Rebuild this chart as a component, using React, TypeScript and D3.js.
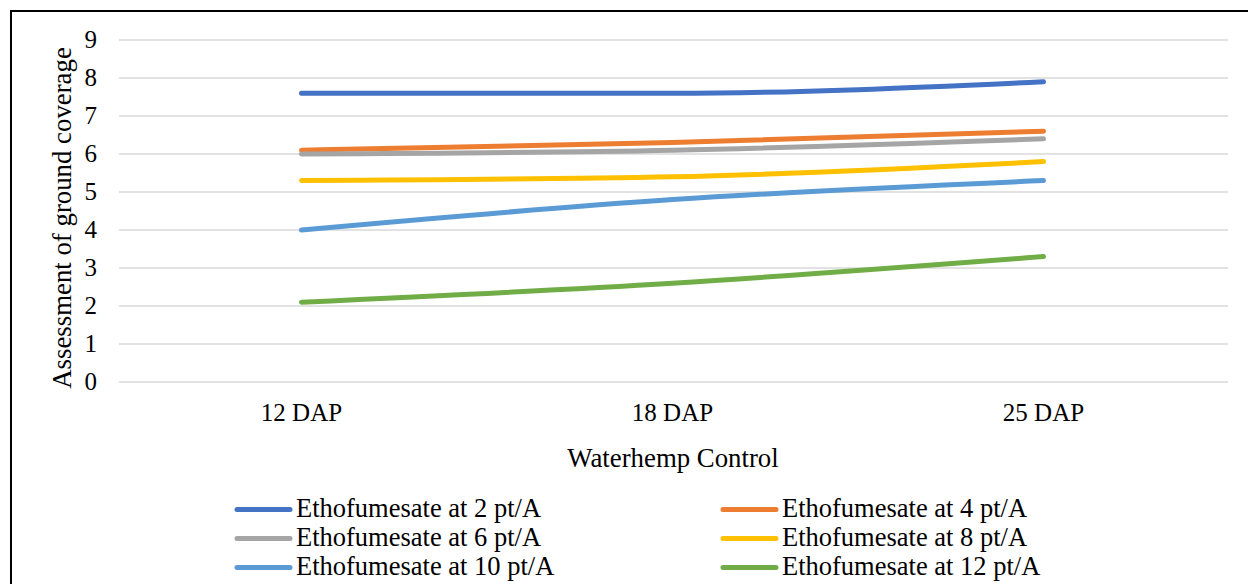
import React from "react";
import * as d3 from "d3";

const categories = ["12 DAP", "18 DAP", "25 DAP"];
const seriesNames = [
  "Ethofumesate at 2 pt/A",
  "Ethofumesate at 4 pt/A",
  "Ethofumesate at 6 pt/A",
  "Ethofumesate at 8 pt/A",
  "Ethofumesate at 10 pt/A",
  "Ethofumesate at 12 pt/A",
];
const s2 = [7.6, 7.6, 7.9];
const s4 = [6.1, 6.3, 6.6];
const s6 = [6.0, 6.1, 6.4];
const s8 = [5.3, 5.4, 5.8];
const s10 = [4.0, 4.8, 5.3];
const s12 = [2.1, 2.6, 3.3];
const seriesValues = [s2, s4, s6, s8, s10, s12];
const colors = ["#4472C4", "#ED7D31", "#A5A5A5", "#FFC000", "#5B9BD5", "#70AD47"];
const yTicks = [0, 1, 2, 3, 4, 5, 6, 7, 8, 9];

const W = 1248;
const H = 584;
const FONT =
  '"Liberation Serif", "Times New Roman", Times, Tinos, "Noto Serif", "DejaVu Serif", FreeSerif, serif';
const ts: React.CSSProperties = { fontFamily: FONT, fontSize: 25 };
const ls: React.CSSProperties = { fontFamily: FONT, fontSize: 26.5 };
const titleStyle: React.CSSProperties = { fontFamily: FONT, fontSize: 26.8 };

export default function App() {
  const x = d3.scalePoint<string>().domain(categories).range([116, 1229]).padding(0.5);
  const y = d3.scaleLinear().domain([0, 9]).range([382, 40]);
  const line = d3
    .line<number>()
    .x((_, i) => x(categories[i]) as number)
    .y((d) => y(d))
    .curve(d3.curveMonotoneX);

  const legendCols = [237, 723];
  const legendRows = [509.5, 538.5, 567.5];

  return (
    <svg
      width={W}
      height={H}
      style={{ position: "absolute", left: 0, top: 0, background: "#fff", fontFamily: FONT }}
    >
      <rect x={0} y={0} width={W} height={H} fill="#fff" />
      <rect x={11} y={11} width={W + 20} height={H + 20} fill="none" stroke="#000" strokeWidth={2} />
      {yTicks.map((t) => (
        <g key={t}>
          <line x1={119} x2={1228} y1={y(t)} y2={y(t)} stroke="#D9D9D9" strokeWidth={1.6} />
          <text x={97} y={y(t)} dy="0.33em" textAnchor="end" style={ts} fill="#000">
            {t}
          </text>
        </g>
      ))}
      {categories.map((c) => (
        <text key={c} x={x(c)} y={421} textAnchor="middle" style={ts} fill="#000">
          {c}
        </text>
      ))}
      <text x={673} y={467} textAnchor="middle" style={titleStyle} fill="#000">
        Waterhemp Control
      </text>
      <text
        transform={`translate(71, 218) rotate(-90)`}
        textAnchor="middle"
        style={titleStyle}
        fill="#000"
      >
        Assessment of ground coverage
      </text>
      {seriesValues.map((vals, i) => (
        <path
          key={i}
          d={line(vals) || ""}
          fill="none"
          stroke={colors[i]}
          strokeWidth={5}
          strokeLinecap="round"
          strokeLinejoin="round"
        />
      ))}
      {seriesNames.map((name, i) => {
        const col = i % 2;
        const row = Math.floor(i / 2);
        const lx = legendCols[col];
        const ly = legendRows[row];
        return (
          <g key={name}>
            <line
              x1={lx}
              x2={lx + 53}
              y1={ly}
              y2={ly}
              stroke={colors[i]}
              strokeWidth={5}
              strokeLinecap="round"
            />
            <text x={lx + 59} y={ly + 7.5} style={ls} fill="#000">
              {name}
            </text>
          </g>
        );
      })}
    </svg>
  );
}
